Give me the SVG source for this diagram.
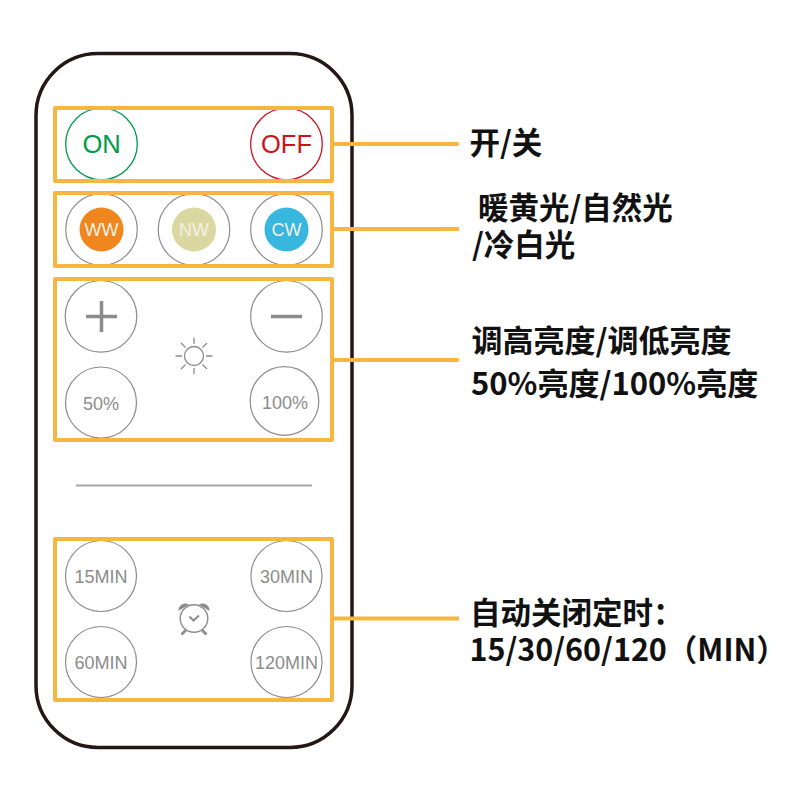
<svg xmlns="http://www.w3.org/2000/svg" width="800" height="800" viewBox="0 0 800 800">
<style>
.box{fill:none;stroke:#f6b63f;stroke-width:4;stroke-linejoin:round}
.conn{stroke:#f6b63f;stroke-width:4;fill:none}
.btn{fill:#fff;stroke:#8c8c8c;stroke-width:1.2}
.gl{font-family:"Liberation Sans",Arial,sans-serif;text-anchor:middle}
.g18{font-size:18px;fill:#8c8c8c}
.w18{font-size:18px;fill:#f4f1e4}
.lab{font-family:"Noto Sans CJK SC","Noto Sans",sans-serif;font-weight:700;font-size:30.500px;fill:#111}
.ic{stroke:#8c8c8c;fill:none}
</style>
<rect width="800" height="800" fill="#fff"/>
<rect id="remote" x="36" y="53.500" width="316" height="694" rx="62" ry="62" fill="#fff" stroke="#231815" stroke-width="3.500"/>
<line id="divider" x1="76" y1="485.500" x2="312" y2="485.500" stroke="#a5a5a5" stroke-width="1.800"/>
<g id="connectors">
<line class="conn" x1="332" y1="144" x2="459" y2="144"/>
<line class="conn" x1="332" y1="229" x2="459" y2="229"/>
<line class="conn" x1="332" y1="360" x2="459" y2="360"/>
<line class="conn" x1="332" y1="618.500" x2="459" y2="618.500"/>
</g>
<g id="group-power">
<circle cx="101.500" cy="144" r="35.800" fill="#fff" stroke="#009a49" stroke-width="1.300"/>
<text class="gl" x="101.500" y="152.500" font-size="25.500" fill="#009a49">ON</text>
<circle cx="286.500" cy="144" r="35.800" fill="#fff" stroke="#d0121b" stroke-width="1.300"/>
<text class="gl" x="286.500" y="152.500" font-size="25.500" fill="#d0121b">OFF</text>
<rect class="box" x="55" y="108" width="277" height="73"/>
</g>
<g id="group-color">
<circle class="btn" cx="101.500" cy="229.500" r="35.800"/>
<circle cx="101.500" cy="229.500" r="22" fill="#ef861e"/>
<text class="gl w18" x="101.500" y="236">WW</text>
<circle class="btn" cx="194" cy="229.500" r="35.800"/>
<circle cx="194" cy="229.500" r="22" fill="#dad8a0"/>
<text class="gl w18" x="194" y="236">NW</text>
<circle class="btn" cx="286.500" cy="229.500" r="35.800"/>
<circle cx="286.500" cy="229.500" r="22" fill="#37b6de"/>
<text class="gl w18" x="286.500" y="236">CW</text>
<rect class="box" x="55" y="193" width="277" height="73"/>
</g>
<g id="group-brightness">
<circle class="btn" cx="101" cy="316.300" r="35.800"/>
<path d="M86 316.500H117M101.500 301V332" stroke="#8c8c8c" stroke-width="3.500" fill="none"/>
<circle class="btn" cx="286.500" cy="316.300" r="35.800"/>
<path d="M271 316.500H302" stroke="#8c8c8c" stroke-width="3.500" fill="none"/>
<circle class="btn" cx="101" cy="402.500" r="35.500"/>
<text class="gl g18" x="101" y="410">50%</text>
<circle class="btn" cx="284.500" cy="401" r="34.300"/>
<text class="gl g18" x="285" y="409">100%</text>
<g id="sun" class="ic" stroke-width="1.300">
<circle cx="194" cy="356" r="9.500"/>
<path d="M194 337.500V344M194 368V374M175.500 356H182M206 356H212.500M181 343L185.500 347.500M207 343L202.500 347.500M181 369L185.500 364.500M207 369L202.500 364.500"/>
</g>
<rect class="box" x="55" y="279" width="277" height="161"/>
</g>
<g id="group-timer">
<circle class="btn" cx="101" cy="576" r="35.500"/>
<text class="gl g18" x="101" y="582.500">15MIN</text>
<circle class="btn" cx="286.500" cy="576" r="35.500"/>
<text class="gl g18" x="286.500" y="582.500">30MIN</text>
<circle class="btn" cx="101" cy="662" r="35.500"/>
<text class="gl g18" x="101" y="669">60MIN</text>
<circle class="btn" cx="286.500" cy="662" r="35.500"/>
<text class="gl g18" x="286.500" y="669">120MIN</text>
<g id="alarm">
<path d="M178.500 611A7 7 0 0 1 189 604.500ZM209.500 611A7 7 0 0 0 199 604.500Z" fill="#8c8c8c"/>
<circle class="ic" cx="194" cy="618.500" r="13.800" stroke-width="1.400" fill="#fff"/>
<path class="ic" d="M189.500 616.500L193.500 620.500L199 615.500" stroke-width="2"/>
<path class="ic" d="M186 630L181.500 634.500M202 630L206.500 634.500" stroke-width="2.800"/>
</g>
<rect class="box" x="55" y="539" width="277" height="161"/>
</g>
<g id="labels">
<text class="lab" x="469.500" y="154">开/关</text>
<text class="lab" x="478" y="219">暖黄光/自然光<tspan x="472" y="256">/冷白光</tspan></text>
<text class="lab" style="font-size:31px" x="471.500" y="352">调高亮度/调低亮度<tspan x="471" y="395">50%亮度/100%亮度</tspan></text>
<text class="lab" x="470" y="624">自动关闭定时：<tspan x="469.500" y="660.500">15/30/60/120（MIN）</tspan></text>
</g>
</svg>
